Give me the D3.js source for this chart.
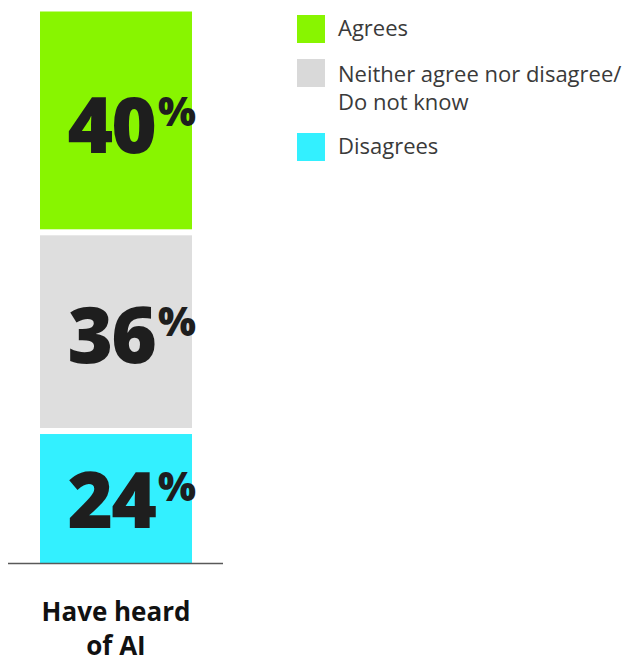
<!DOCTYPE html>
<html>
<head>
<meta charset="utf-8">
<script src="https://cdn.jsdelivr.net/npm/d3@7/dist/d3.min.js"></script>
<style>
  html, body { margin: 0; padding: 0; background: #fff; }
  svg { display: block; }
</style>
</head>
<body>
<svg id="chart" width="641" height="662"></svg>
<script>
// Survey answers among people who have heard of AI (stacked, top to bottom)
const categories = ["Have heard of AI"];
const categoryLines = [["Have heard", "of AI"]];
const seriesNames = ["Agrees", "Neither agree nor disagree/\nDo not know", "Disagrees"];
const seriesColors = ["#88f500", "#dedede", "#33f0ff"];
const legendColors = ["#88f500", "#d9d9d9", "#33f0ff"];
const agrees = [40];
const neither = [36];
const disagrees = [24];

const svg = d3.select("#chart");

const x = d3.scaleBand().domain(categories).range([40, 192]).padding(0);
const y = d3.scaleLinear().domain([0, 100]).range([563.5, 11.5]);

// Stack from the bottom: disagrees, neither, agrees
const rows = categories.map((c, i) => ({ cat: c, Agrees: agrees[i], Neither: neither[i], Disagrees: disagrees[i] }));
const keys = ["Disagrees", "Neither", "Agrees"];
const colorByKey = { Agrees: seriesColors[0], Neither: seriesColors[1], Disagrees: seriesColors[2] };
const stacked = d3.stack().keys(keys)(rows);

const gap = 3;
const segs = [];
stacked.forEach(layer => {
  layer.forEach(d => {
    segs.push({ key: layer.key, cat: d.data.cat, y0: d[0], y1: d[1], value: d[1] - d[0] });
  });
});

const segTop = d => y(d.y1) + (d.y1 < 100 ? gap : 0);
const segBottom = d => y(d.y0) - (d.y0 > 0 ? gap : 0);

svg.append("g").selectAll("rect").data(segs).join("rect")
  .attr("x", d => x(d.cat))
  .attr("width", x.bandwidth())
  .attr("y", segTop)
  .attr("height", d => segBottom(d) - segTop(d))
  .attr("fill", d => colorByKey[d.key]);

// Value labels: big number with a raised percent sign
const labels = svg.append("g").attr("fill", "#1e1e1e")
  .style("font-family", "'Open Sans', sans-serif").style("font-weight", 800);
segs.forEach(d => {
  const cx = x(d.cat) + x.bandwidth() / 2;
  const mid = (y(d.y0) + y(d.y1)) / 2;
  const base = mid + 31;
  labels.append("text")
    .attr("x", cx + 39).attr("y", base)
    .attr("text-anchor", "end")
    .style("font-size", "78px")
    .style("letter-spacing", "-2px")
    .text(Math.round(d.value));
  labels.append("text")
    .attr("x", cx + 42).attr("y", base - 27)
    .attr("text-anchor", "start")
    .style("font-size", "40px")
    .text("%");
});

// Baseline
svg.append("line")
  .attr("x1", 8).attr("x2", 223)
  .attr("y1", y(0)).attr("y2", y(0))
  .attr("stroke", "#595959").attr("stroke-width", 1.5);

// Category label
const catLabel = svg.append("g").attr("fill", "#111")
  .style("font-family", "'Open Sans', sans-serif").style("font-weight", 700).style("font-size", "26px");
categories.forEach((c, i) => {
  categoryLines[i].forEach((line, j) => {
    catLabel.append("text")
      .attr("x", x(c) + x.bandwidth() / 2)
      .attr("y", 621 + j * 34)
      .attr("text-anchor", "middle")
      .text(line);
  });
});

// Legend
const legend = svg.append("g")
  .style("font-family", "'Open Sans', sans-serif").style("font-size", "22px").attr("fill", "#3a3a3a");
const legendTops = [15, 59, 133];
seriesNames.forEach((name, i) => {
  const g = legend.append("g").attr("transform", `translate(297,${legendTops[i]})`);
  g.append("rect").attr("width", 28).attr("height", 28).attr("fill", legendColors[i]);
  name.split("\n").forEach((line, j) => {
    g.append("text").attr("x", 41).attr("y", 21 + (i === 1 ? 2 : 0) + j * 28).text(line);
  });
});
</script>
</body>
</html>
